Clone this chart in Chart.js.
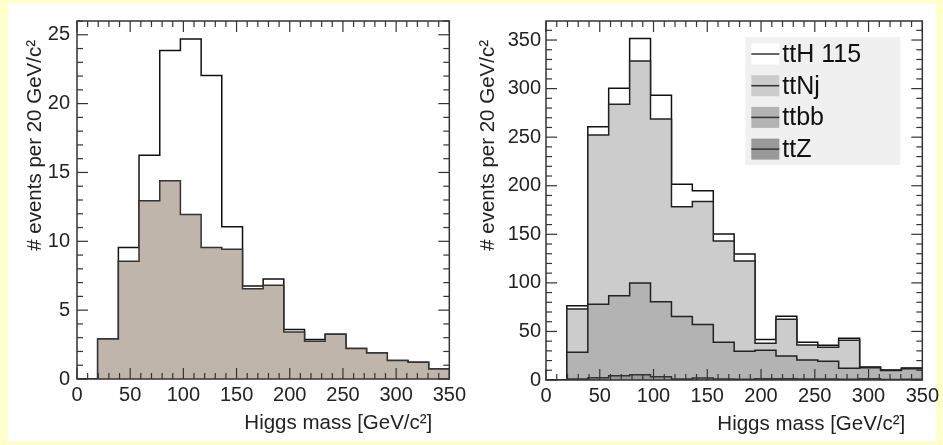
<!DOCTYPE html>
<html>
<head>
<meta charset="utf-8">
<script src="https://cdn.jsdelivr.net/npm/chart.js"></script>
<style>
    body { margin: 0; background: #ffffcc; }
    #page { position: absolute; left: 8px; top: 4px; width: 928px; height: 437px; background: #fff; }
    canvas { position: absolute; top: 0; }
    #leftChart { left: 0; }
    #rightChart { left: 470px; }
</style>
</head>
<body>
<div id="page"></div>
<canvas id="leftChart" width="470" height="445"></canvas>
<canvas id="rightChart" width="473" height="445"></canvas>
<script>
// 18 bins over 0-350 GeV
const binEdges = [0, 19.4, 38.9, 58.3, 77.8, 97.2, 116.7, 136.1, 155.6, 175, 194.4, 213.9, 233.3, 252.8, 272.2, 291.7, 311.1, 330.6, 350];

// left panel
const leftBkg = [0, 2.9, 8.55, 12.95, 14.4, 11.95, 9.55, 9.43, 6.55, 6.8, 3.42, 2.74, 3.25, 2.22, 1.88, 1.34, 1.21, 0.73];
const leftSig = [0, 0, 1.0, 3.3, 9.45, 12.75, 12.5, 1.62, 0.2, 0.47, 0.18, 0.13, 0, 0, 0, 0, 0, 0];

// right panel, per process
const ttZ  = [0, 1.0, 2.4, 4.4, 5.5, 3.4, 1.0, 2.1, 1.0, 0.7, 1.4, 1.2, 1.0, 1.0, 0.7, 1.2, 0.5, 0.7];
const ttbb = [0, 27.5, 75.5, 82.4, 94.3, 77.2, 64.5, 55.0, 37.8, 28.8, 29.2, 23.5, 19.5, 18.2, 11.3, 11.4, 9.2, 10.9];
const ttNj = [0, 44.6, 174.3, 197.0, 228.6, 188.1, 112.9, 126.6, 104.3, 93.0, 7.2, 37.8, 15.5, 14.4, 29.0, 0.2, 0.2, 0.2];
const ttH  = [0, 3.4, 8.6, 16.5, 23.3, 24.4, 23.1, 11.2, 7.2, 7.2, 3.9, 3.2, 2.8, 2.1, 1.9, 0.7, 0.3, 0.6];

const xTicks = [0, 50, 100, 150, 200, 250, 300, 350];
const leftYTicks = [0, 5, 10, 15, 20, 25];
const rightYTicks = [0, 50, 100, 150, 200, 250, 300, 350];

const xTitle = 'Higgs mass [GeV/c²]';
const yTitle = '# events per 20 GeV/c²';

// step outline points: value of bin i sits at its right edge (stepped 'after')
function histPoints(values) {
    return binEdges.map((e, i) => ({ x: e, y: i === 0 ? 0 : values[i - 1] }));
}

function addUp(...series) {
    return series[0].map((_, i) => series.reduce((s, a) => s + a[i], 0));
}

function histDataset(label, values, fill, line) {
    return {
        label: label,
        data: histPoints(values),
        stepped: 'after',
        fill: 'origin',
        backgroundColor: fill,
        borderColor: line || '#222',
        borderWidth: 1.5,
        pointRadius: 0
    };
}

// ROOT-like frame: inward ticks on all four sides, axis titles, legend box
const rootFrame = {
    id: 'rootFrame',
    afterDraw(chart, args, opts) {
        const { ctx, chartArea: a, scales: { x, y } } = chart;
        const isMajor = (v, m) => Math.abs(v / m - Math.round(v / m)) < 1e-6;
        const seg = (x1, y1, x2, y2) => { ctx.beginPath(); ctx.moveTo(x1, y1); ctx.lineTo(x2, y2); ctx.stroke(); };

        ctx.save();
        ctx.strokeStyle = '#333';
        ctx.lineWidth = 1.2;
        for (let v = x.min; v <= x.max + 1e-9; v += opts.xMinor) {
            const px = x.getPixelForValue(v);
            const len = isMajor(v, opts.xMajor) ? 11 : 6;
            seg(px, a.bottom, px, a.bottom - len);
            seg(px, a.top, px, a.top + len);
        }
        for (let v = y.min; v <= y.max + 1e-9; v += opts.yMinor) {
            const py = y.getPixelForValue(v);
            const len = isMajor(v, opts.yMajor) ? 11 : 6;
            seg(a.left, py, a.left + len, py);
            seg(a.right, py, a.right - len, py);
        }
        ctx.lineWidth = 1.5;
        ctx.strokeRect(a.left, a.top, a.right - a.left, a.bottom - a.top);

        // axis titles
        ctx.fillStyle = '#222';
        ctx.font = "20.5px 'Liberation Sans', Arial, sans-serif";
        ctx.textAlign = 'right';
        ctx.textBaseline = 'middle';
        ctx.fillText(xTitle, a.right - 17, a.bottom + 44);
        ctx.save();
        ctx.translate(opts.yTitleX, a.top + 19);
        ctx.rotate(-Math.PI / 2);
        ctx.fillText(yTitle, 0, 0);
        ctx.restore();

        if (opts.legend) {
            const w = 155, h = 128;
            const left = a.right - 22 - w, top = a.top + 16;
            ctx.fillStyle = '#f0f0f0';
            ctx.fillRect(left, top, w, h);
            ctx.font = "25px 'Liberation Sans', Arial, sans-serif";
            ctx.textAlign = 'left';
            const sets = chart.data.datasets.slice().reverse();
            sets.forEach((ds, i) => {
                const cy = top + 17 + i * 31.7;
                ctx.fillStyle = ds.backgroundColor;
                ctx.fillRect(left + 6, cy - 10.5, 28, 21);
                ctx.strokeStyle = '#333';
                ctx.lineWidth = 1.5;
                seg(left + 6, cy, left + 34, cy);
                ctx.fillStyle = '#111';
                ctx.fillText(ds.label, left + 37, cy + 1);
            });
        }
        ctx.restore();
    }
};

Chart.defaults.font.family = "'Liberation Sans', Arial, sans-serif";
Chart.defaults.font.size = 20;
Chart.defaults.color = '#222';

function makeScales(yMax, yTicks, yWidth, xHeight, yPad) {
    return {
        x: {
            type: 'linear',
            min: 0,
            max: 350,
            grid: { display: false, drawTicks: false },
            border: { display: false },
            ticks: { padding: 4, maxRotation: 0 },
            afterBuildTicks: s => { s.ticks = xTicks.map(v => ({ value: v })); },
            afterFit: s => { s.height = xHeight; }
        },
        y: {
            min: 0,
            max: yMax,
            grid: { display: false, drawTicks: false },
            border: { display: false },
            ticks: { padding: yPad },
            afterBuildTicks: s => { s.ticks = yTicks.map(v => ({ value: v })); },
            afterFit: s => { s.width = yWidth; }
        }
    };
}

new Chart(document.getElementById('leftChart').getContext('2d'), {
    type: 'line',
    data: {
        datasets: [
            histDataset('background', leftBkg, '#c0b5aa', '#333'),
            histDataset('signal + background', addUp(leftBkg, leftSig), '#ffffff', '#111')
        ]
    },
    options: {
        responsive: false,
        animation: false,
        layout: { padding: { left: 0, right: 16, top: 21, bottom: 0 } },
        plugins: {
            legend: { display: false },
            tooltip: { enabled: false },
            rootFrame: { xMinor: 10, xMajor: 50, yMinor: 1, yMajor: 5, yTitleX: 35, legend: false }
        },
        scales: makeScales(26, leftYTicks, 77, 66, 7)
    },
    plugins: [rootFrame]
});

new Chart(document.getElementById('rightChart').getContext('2d'), {
    type: 'line',
    data: {
        datasets: [
            histDataset('ttZ', ttZ, '#999999', '#333'),
            histDataset('ttbb', addUp(ttZ, ttbb), '#b3b3b3', '#222'),
            histDataset('ttNj', addUp(ttZ, ttbb, ttNj), '#cccccc', '#222'),
            histDataset('ttH 115', addUp(ttZ, ttbb, ttNj, ttH), '#ffffff', '#111')
        ]
    },
    options: {
        responsive: false,
        animation: false,
        layout: { padding: { left: 0, right: 19, top: 21, bottom: 0 } },
        plugins: {
            legend: { display: false },
            tooltip: { enabled: false },
            rootFrame: { xMinor: 10, xMajor: 50, yMinor: 10, yMajor: 50, yTitleX: 18, legend: true }
        },
        scales: makeScales(369.6, rightYTicks, 76, 65, 5)
    },
    plugins: [rootFrame]
});
</script>
</body>
</html>
